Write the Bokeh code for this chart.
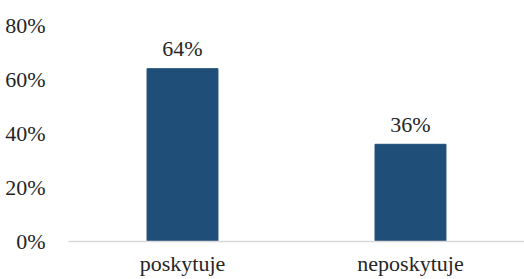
from bokeh.plotting import figure
from bokeh.models import Range1d, NumeralTickFormatter, FixedTicker, ColumnDataSource
from bokeh.core.properties import value
from bokeh.embed import file_html
from bokeh.resources import INLINE

categories = ["poskytuje", "neposkytuje"]
values = [0.64, 0.36]
y_ticks = [0, 0.2, 0.4, 0.6, 0.8]

xs = [i + 0.5 for i in range(len(categories))]
labels = [f"{round(v*100)}%" for v in values]
src = ColumnDataSource(dict(x=xs, top=values, label=labels))

FONT = "Liberation Serif"
TXT = "#262626"
FS = "22px"

p = figure(width=524, height=279, output_backend="svg", toolbar_location=None,
           x_range=Range1d(0, 2), y_range=Range1d(0, 0.8),
           min_border_left=68, min_border_right=0, min_border_top=25, min_border_bottom=38)
p.outline_line_color = None
p.xgrid.visible = False
p.ygrid.visible = False

p.vbar(x="x", top="top", width=0.311, bottom=0, source=src, color="#1f4e79")
p.text(x="x", y="top", text="label", source=src, text_align="center",
       text_baseline="alphabetic", y_offset=-20, text_font=value(FONT),
       text_font_size=FS, text_color=TXT)

p.yaxis.ticker = FixedTicker(ticks=y_ticks)
p.yaxis.formatter = NumeralTickFormatter(format="0%")
p.yaxis.axis_line_color = None
p.yaxis.major_tick_line_color = None
p.yaxis.minor_tick_line_color = None
p.yaxis.major_label_standoff = 17
p.yaxis.major_label_text_font = FONT
p.yaxis.major_label_text_font_size = FS
p.yaxis.major_label_text_color = TXT

p.xaxis.ticker = FixedTicker(ticks=xs)
p.xaxis.major_label_overrides = {x: c for x, c in zip(xs, categories)}
p.xaxis.axis_line_color = "#d9d9d9"
p.xaxis.axis_line_width = 1.5
p.xaxis.major_tick_line_color = None
p.xaxis.minor_tick_line_color = None
p.xaxis.major_label_standoff = 3
p.xaxis.major_label_text_font = FONT
p.xaxis.major_label_text_font_size = FS
p.xaxis.major_label_text_color = TXT

open("out.html", "w").write(file_html(p, INLINE))
